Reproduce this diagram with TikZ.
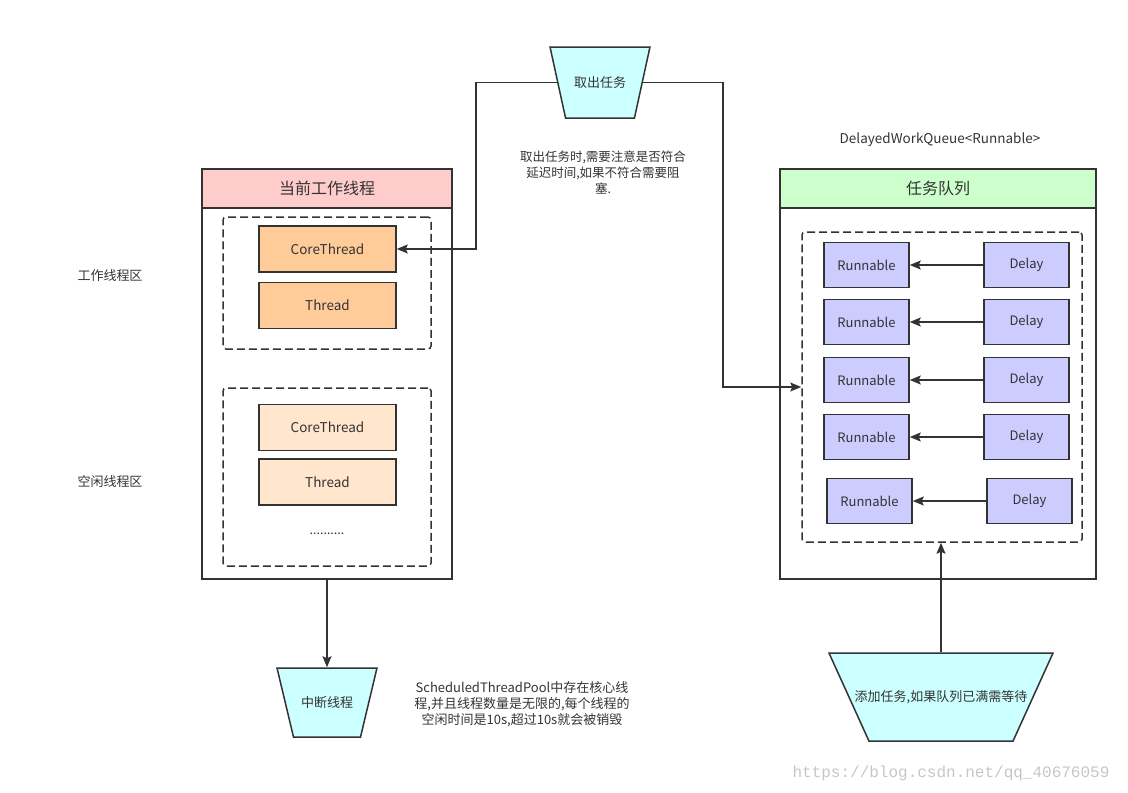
\documentclass[tikz,border=0pt]{standalone}
\usepackage{fontspec}
\setmainfont{Noto Sans CJK SC}
\newfontfamily\markfont{Liberation Mono}
\usetikzlibrary{shapes.geometric,arrows.meta}
\definecolor{linegray}{HTML}{333333}
\definecolor{headpink}{HTML}{FFCCCC}
\definecolor{headgreen}{HTML}{CCFFCC}
\definecolor{coreorange}{HTML}{FFCC99}
\definecolor{idleorange}{HTML}{FFE6CC}
\definecolor{taskblue}{HTML}{CCCCFF}
\definecolor{funnelcyan}{HTML}{CCFFFF}
\begin{document}
\begin{tikzpicture}[x=1pt,y=-1pt,
    panel/.style ={draw=linegray, line width=1.5pt, inner sep=0pt, minimum width=250pt, minimum height=410pt},
    header/.style ={draw=linegray, line width=1.5pt, inner sep=0pt, minimum height=39pt, text=linegray, font=\fontsize{16}{19}\selectfont},
    zone/.style ={draw=linegray, line width=1.5pt, dash pattern=on 8pt off 4pt, rounded corners=3pt, inner sep=0pt},
    threadbox/.style ={draw=linegray, line width=1.5pt, minimum width=137pt, minimum height=46pt, text=linegray, font=\fontsize{13.5}{15}\selectfont},
    taskbox/.style ={draw=linegray, line width=1.5pt, fill=taskblue, minimum width=85pt, minimum height=45pt, text=linegray, font=\fontsize{13}{15}\selectfont},
    funnel/.style ={trapezium, trapezium stretches=true, draw=linegray, line width=1.5pt, fill=funnelcyan, inner sep=3pt},
    labeltext/.style ={text=linegray, font=\fontsize{13}{15}\selectfont},
    note/.style ={text=linegray, align=center, font=\fontsize{12.5}{16}\selectfont},
    link/.style ={draw=linegray, line width=1.5pt, -{Stealth[length=11pt,width=9pt,inset=2pt]}}]
   \useasboundingbox (0,0) rectangle (1128,793);

   % worker side
   \node[panel] (work) at (327,374) {};
   \node[header, fill=headpink, minimum width=250pt] (workhead) at (327,188.5) {当前工作线程};
   \node[zone, minimum width=208pt, minimum height=132pt] (busy) at (327,283) {};
   \node[zone, minimum width=208pt, minimum height=178pt] (idle) at (327,477) {};
   \node[threadbox, fill=coreorange] (core1) at (327.5,249) {CoreThread};
   \node[threadbox, fill=coreorange] (thr1) at (327.5,305.5) {Thread};
   \node[threadbox, fill=idleorange] (core2) at (327.5,427.5) {CoreThread};
   \node[threadbox, fill=idleorange] (thr2) at (327.5,482) {Thread};
   \node[note] (dots) at (327,534) {..........};
   \node[labeltext] (busylabel) at (110,276) {工作线程区};
   \node[labeltext] (idlelabel) at (110,482) {空闲线程区};

   % take and stop
   \node[funnel, trapezium angle=102.7, minimum width=100pt, minimum height=71pt,
         label={[labeltext]center:取出任务}] (take) at (600,82.5) {};
   \node[note] (takenote) at (603,173) {取出任务时,需要注意是否符合\\延迟时间,如果不符合需要阻\\塞.};
   \node[funnel, trapezium angle=103.8, minimum width=100pt, minimum height=69pt,
         label={[labeltext]center:中断线程}] (stop) at (327,702.5) {};
   \node[note, font=\fontsize{13}{16}\selectfont] (poolnote) at (522,704) {ScheduledThreadPool中存在核心线\\程,并且线程数量是无限的,每个线程的\\空闲时间是10s,超过10s就会被销毁};

   % queue side
   \node[note, font=\fontsize{13.5}{16}\selectfont] (queuetype) at (940,140) {DelayedWorkQueue<Runnable>};
   \node[panel, minimum width=316pt] (queuepanel) at (938,374) {};
   \node[header, fill=headgreen, minimum width=316pt] (queuehead) at (938,188.5) {任务队列};
   \node[zone, minimum width=280pt, minimum height=310pt] (queue) at (942,387) {};
   \foreach \i/\y/\dx in {1/265/0, 2/322/0, 3/380/0, 4/437/0, 5/501/3} {
      \node[taskbox] (run\i) at (866.5+\dx,\y) {Runnable};
      \node[taskbox] (delay\i) at (1026.5+\dx,\y) {Delay};
      \draw[link] (delay\i.west) -- (run\i.east);
   }
   \node[funnel, trapezium angle=105.5, minimum width=224pt, minimum height=88pt,
         label={[labeltext]center:添加任务,如果队列已满需等待}] (add) at (941,697) {};
   \node[text=gray!45, font=\markfont\fontsize{16}{18}\selectfont] (mark) at (951,773) {https://blog.csdn.net/qq\_40676059};

   % connectors
   \draw[link] (take.180) -- ++(-81,0) |- (core1.east);
   \draw[link] (take.0) -- ++(80,0) |- (queue.west);
   \draw[link] (work.south) -- (stop.north);
   \draw[link] (add.north) -- (add.north |- queue.south);
 \end{tikzpicture}
\end{document}
